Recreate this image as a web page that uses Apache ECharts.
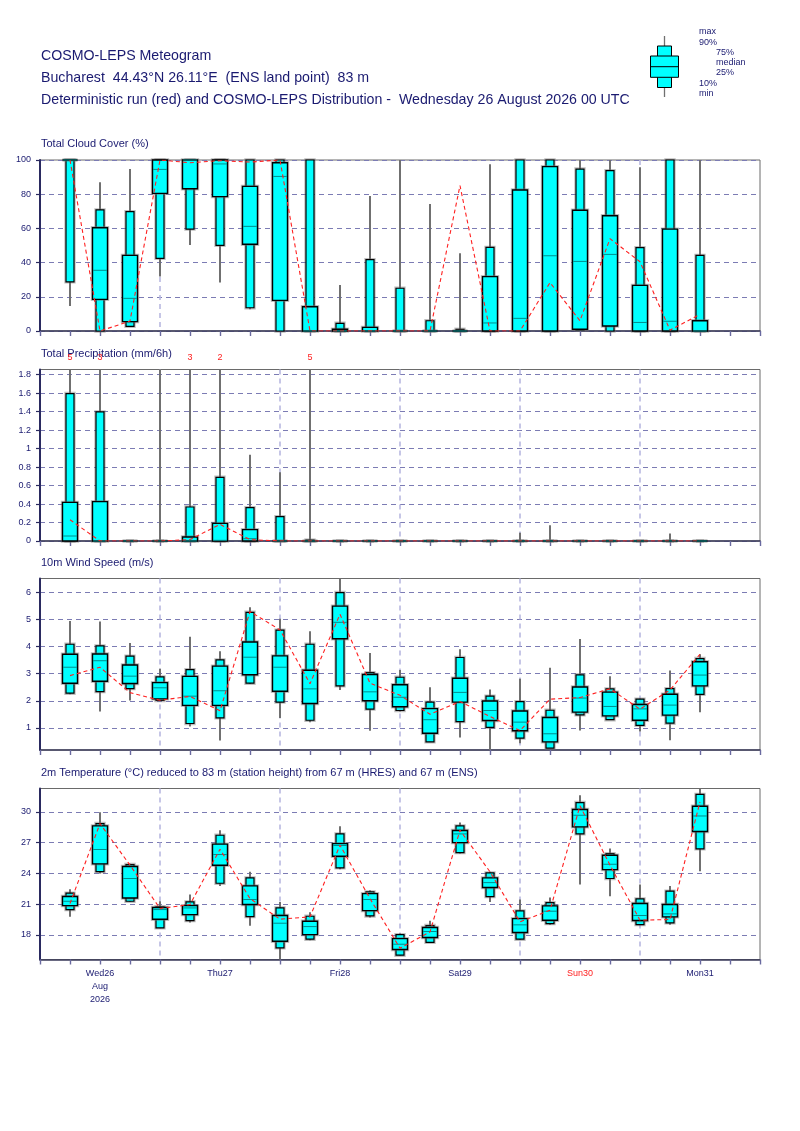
<!DOCTYPE html>
<html><head><meta charset="utf-8">
<script src="https://cdn.jsdelivr.net/npm/echarts@6/dist/echarts.min.js"></script>
<style>html,body{margin:0;padding:0;background:#fff}#c{width:800px;height:1131px}</style>
</head><body><div id="c"></div><script>
// ---- axis categories (hours since Wed 26 Aug 2026 00 UTC)
const hours = ['0','6','12','18','24','30','36','42','48','54','60','66','72','78','84','90','96','102','108','114','120','126','132','138','144'];
const dayLabels = ['','','Wed26\nAug\n2026','','','','Thu27','','','','Fri28','','','','Sat29','','','','Sun30','','','','Mon31','',''];
const dayColors = ['','','#1a1a70','','','','#1a1a70','','','','#1a1a70','','','','#1a1a70','','','','#ff2020','','','','#1a1a70','',''];
// box positions: category indices 1..22 (06 UTC Wed .. 12 UTC Mon)
const steps = [1,2,3,4,5,6,7,8,9,10,11,12,13,14,15,16,17,18,19,20,21,22];

// ---- tick labels
const cloudTicks = [0,20,40,60,80,100];
const precipTicks = [0,0.2,0.4,0.6,0.8,1,1.2,1.4,1.6,1.8];
const windTicks = [1,2,3,4,5,6];
const tempTicks = [18,21,24,27,30];

// ---- data rows: [min, p10, p25, median, p75, p90, max]
const cloudBoxes = [
 [14.6,28.7,100,100,100,100,100],[0,0,18.5,35.5,60.4,70.8,87],[2.7,2.7,5.5,19.1,44.2,69.8,94.7],
 [31.8,42.5,80.5,94.5,100,100,100],[50.3,59.6,83.2,100,100,100,100],[28.3,50.1,78.6,97.7,100,100,100],
 [12.7,13.6,50.7,61.2,84.6,100,100],[0,0,17.9,90.4,98.4,100,100],[0,0,0,0,14.2,100,100],
 [0,0,0,0,1,4.5,26.9],[0,0,0,0,2.1,41.7,79],[0,0,0,0,0,25,100],[0,0,0,0,0,6,74.3],
 [0,0,0,0,0,1,45.4],[0,0,0,4.7,31.8,48.9,97.5],[0,0,0,7.4,82.5,100,100],[0,0,0,44,96.1,100,100],
 [0,0.5,1,40.7,70.6,94.7,100],[0,0,2.9,44.8,67.4,93.8,100],[0,0,0,5,26.7,48.7,95.7],
 [0,0,0,5.7,59.6,100,100],[0,0,0,0,6,44.2,100]
];
const cloudDet = [100,0,5.8,100,98.4,99.6,98.8,100,0,0,0,0,0,85,0,0,28.3,6,54,40.5,0.5,9.7];

const precipBoxes = [
 [0,0,0,0.054,0.418,1.595,5],[0,0,0,0,0.426,1.396,3],[0,0,0,0,0,0,0],[0,0,0,0,0,0,1.9],
 [0,0,0,0,0.043,0.368,3],[0,0,0,0.007,0.191,0.689,2],[0,0,0,0.025,0.123,0.361,0.934],
 [0,0,0,0,0,0.263,0.743],[0,0,0,0,0,0.01,5],[0,0,0,0,0,0,0],[0,0,0,0,0,0,0],[0,0,0,0,0,0,0],
 [0,0,0,0,0,0,0],[0,0,0,0,0,0,0],[0,0,0,0,0,0,0],[0,0,0,0,0,0,0.09],[0,0,0,0,0,0,0.17],
 [0,0,0,0,0,0,0],[0,0,0,0,0,0,0],[0,0,0,0,0,0,0],[0,0,0,0,0,0,0.08],[0,0,0,0,0,0,0]
];
const precipDet = [0.23,0,0,0,0.015,0.18,0.015,0,0,0,0,0,0,0,0,0,0,0,0,0,0,0];

const windBoxes = [
 [2.24,2.28,2.65,3.24,3.72,4.09,4.95],[1.6,2.34,2.72,3.48,3.73,4.03,4.93],[2.01,2.45,2.64,2.91,3.32,3.65,4.14],
 [2.0,2.01,2.07,2.48,2.67,2.88,3.18],[1.05,1.16,1.83,2.17,2.9,3.15,4.37],[0.53,1.37,1.83,2.37,3.28,3.51,3.83],
 [2.62,2.65,2.96,3.61,4.17,5.27,5.46],[1.36,1.95,2.35,3.24,3.66,4.61,5.03],[1.21,1.28,1.9,2.44,3.13,4.09,4.57],
 [2.4,2.55,4.29,4.9,5.5,6.0,6.6],[0.89,1.69,2.0,2.33,2.97,3.04,3.77],[1.6,1.64,1.78,2.13,2.59,2.87,3.14],
 [0.48,0.48,0.8,1.3,1.71,1.95,2.5],[0.64,1.23,1.95,2.31,2.83,3.6,3.9],[0.1,1.02,1.27,1.64,1.99,2.17,2.42],
 [0.43,0.62,0.89,1.21,1.62,1.97,2.81],[0.25,0.25,0.48,0.78,1.38,1.65,3.22],[0.9,1.48,1.58,2.1,2.51,2.96,4.28],
 [1.3,1.3,1.44,1.79,2.32,2.44,2.91],[0.86,1.09,1.28,1.7,1.86,2.06,2.07],[0.54,1.17,1.47,1.84,2.24,2.45,3.12],
 [1.58,2.24,2.55,2.95,3.44,3.56,3.72]
];
const windDet = [2.93,3.24,2.3,2.02,2.16,1.63,5.3,4.62,2.63,5.2,2.65,2.2,1.5,1.97,1.42,0.9,2.06,2.12,2.44,1.69,2.4,3.72];

const tempBoxes = [
 [19.76,20.47,20.86,21.28,21.74,22.07,22.46],[23.98,24.18,24.93,26.33,28.63,28.86,29.97],
 [21.2,21.28,21.6,23.5,24.67,24.86,24.93],[18.68,18.68,19.53,20.47,20.67,20.73,21.28],
 [19.2,19.4,19.98,20.63,20.86,21.22,21.93],[22.78,23.04,24.8,25.84,26.85,27.72,28.21],
 [18.88,19.79,20.96,21.45,22.78,23.56,24.15],[15.4,16.73,17.38,19.14,19.89,20.63,21.22],
 [17.48,17.58,18.03,18.81,19.33,19.82,20.2],[24.4,24.54,25.67,26.72,26.9,27.85,28.6],
 [19.7,19.85,20.37,21.45,22.03,22.2,22.36],[16.0,16.02,16.57,17.09,17.64,18.03,18.13],
 [17.28,17.28,17.74,18.33,18.72,18.91,19.37],[25.93,26.03,27.0,27.85,28.18,28.63,28.96],
 [21.22,21.74,22.62,23.1,23.56,24.05,24.15],[17.5,17.58,18.23,18.98,19.59,20.34,21.45],
 [19.0,19.1,19.43,20.31,20.83,21.15,21.64],[22.91,27.85,28.54,29.67,30.23,30.91,31.63],
 [21.77,23.5,24.37,24.89,25.77,25.93,26.42],[19.0,19.0,19.4,19.89,21.06,21.51,22.91],
 [19.0,19.17,19.76,20.05,20.96,22.26,22.78],[24.21,26.39,28.08,29.6,30.55,31.7,32.4]
];
const tempDet = [21.06,28.86,24.8,20.57,20.96,26.36,21.54,19.53,19.76,26.75,21.54,16.7,18.29,28.21,24.15,19.27,20.41,30.59,24.8,19.43,19.5,30.98];

// ---- styling constants
const NAVY = '#1a1a70';
const FONT = 'Liberation Sans';
const panels = [
  {top:160, height:171, min:0, max:100, ticks:cloudTicks, boxes:cloudBoxes, det:cloudDet},
  {top:369.5, height:171.5, min:0, max:1.855, ticks:precipTicks, boxes:precipBoxes, det:precipDet},
  {top:578.5, height:171.5, min:0.18, max:6.52, ticks:windTicks, boxes:windBoxes, det:windDet},
  {top:788.5, height:171, min:15.6, max:32.28, ticks:tempTicks, boxes:tempBoxes, det:tempDet}
];

function boxRender(params, api) {
  const cs = params.coordSys;
  const xi = api.value(0);
  const vals = [1,2,3,4,5,6,7].map(k => api.value(k));
  const cx = api.coord([xi, vals[3]])[0];
  const y = vals.map(v => {
    const py = api.coord([xi, v])[1];
    return Math.max(cs.y, Math.min(cs.y + cs.height, py));
  });
  const nw = 4, ww = 7.5;
  const halo = 'rgba(110,110,110,0.45)';
  return {type:'group', children:[
    {type:'line', shape:{x1:cx,y1:y[0],x2:cx,y2:y[6]}, style:{stroke:'#707070', lineWidth:2}},
    {type:'rect', shape:{x:cx-nw,y:y[5],width:2*nw,height:y[1]-y[5]}, style:{fill:'none',stroke:halo,lineWidth:3.4}},
    {type:'rect', shape:{x:cx-nw,y:y[5],width:2*nw,height:y[1]-y[5]}, style:{fill:'#00ffff',stroke:'#000',lineWidth:1.2}},
    {type:'rect', shape:{x:cx-ww,y:y[4],width:2*ww,height:y[2]-y[4]}, style:{fill:'none',stroke:halo,lineWidth:3.4}},
    {type:'rect', shape:{x:cx-ww,y:y[4],width:2*ww,height:y[2]-y[4]}, style:{fill:'#00ffff',stroke:'#000',lineWidth:1.4}},
    {type:'line', shape:{x1:cx-ww+0.6,y1:y[3],x2:cx+ww-0.6,y2:y[3]}, style:{stroke:'#008c8c',lineWidth:1}}
  ]};
}

const grid = [], xAxis = [], yAxis = [], series = [];
panels.forEach((p, g) => {
  grid.push({left:40, width:720, top:p.top, height:p.height, show:true, borderColor:'#6a6a6a', borderWidth:1});
  xAxis.push({
    type:'category', gridIndex:g, data:hours, boundaryGap:false,
    axisLine:{show:true, onZero:false, lineStyle:{color:'#3a3a5a', width:1.6}},
    axisTick:{show:true, interval:0, length:5, lineStyle:{color:'#6a6aa0', width:1.4}},
    axisLabel:{show:g===3, interval:0, margin:8, fontSize:9, lineHeight:13, fontFamily:FONT,
      formatter:(v,i)=>dayLabels[i], color:(v,i)=>dayColors[i]||NAVY},
    splitLine:{show:true, interval:(i)=> i%4===0 && i>0 && i<24,
      lineStyle:{color:'#b8b8e0', type:[5,4], width:1.6}}
  });
  yAxis.push({
    type:'value', gridIndex:g, min:p.min, max:p.max,
    axisLine:{show:true, lineStyle:{color:'#2a2a60', width:2}},
    axisTick:{show:true, length:4, customValues:p.ticks, lineStyle:{color:'#2a2a60', width:1.2}},
    axisLabel:{customValues:p.ticks, fontSize:9, color:NAVY, margin:9, fontFamily:FONT},
    splitLine:{show:true, lineStyle:{color:'#7c7cb4', type:[5,4], width:1.1}}
  });
  series.push({
    type:'custom', xAxisIndex:g, yAxisIndex:g, renderItem:boxRender, z:3,
    encode:{x:0, y:[1,2,3,4,5,6,7]},
    data: p.boxes.map((b,i)=>[steps[i]].concat(b))
  });
  series.push({
    type:'line', xAxisIndex:g, yAxisIndex:g, z:5, symbol:'none', silent:true,
    lineStyle:{color:'#ff2020', width:1.1, type:[4,3]},
    data: p.det.map((d,i)=>[steps[i], d])
  });
});
// off-scale precipitation maxima labels
series.push({
  type:'custom', xAxisIndex:1, yAxisIndex:1, z:6,
  renderItem:(params, api)=>{
    const cs = params.coordSys;
    const pt = api.coord([api.value(0), 0]);
    return {type:'text', x:pt[0], y:cs.y-12, style:{text:String(Math.round(api.value(1))), fill:'#ff2020',
      font:'9px '+FONT, textAlign:'center', textVerticalAlign:'middle'}};
  },
  data: precipBoxes.map((b,i)=>[steps[i], b[6]]).filter(d=>d[1] > 1.95)
});

const txt = (x,y,t,size,extra) => Object.assign({type:'text', x, y, style:{text:t, fill:NAVY, font:size+'px '+FONT, textVerticalAlign:'middle'}}, extra||{});
const graphic = [
  txt(41,56,'COSMO-LEPS Meteogram',14.2),
  txt(41,78,'Bucharest  44.43°N 26.11°E  (ENS land point)  83 m',14.2),
  txt(41,100.5,'Deterministic run (red) and COSMO-LEPS Distribution -  Wednesday 26 August 2026 00 UTC',14.2),
  txt(41,144,'Total Cloud Cover (%)',11),
  txt(41,353.5,'Total Precipitation (mm/6h)',11),
  txt(41,563,'10m Wind Speed (m/s)',11),
  txt(41,773,'2m Temperature (°C) reduced to 83 m (station height) from 67 m (HRES) and 67 m (ENS)',11),
  // legend glyph
  {type:'line', shape:{x1:664.5,y1:36,x2:664.5,y2:97}, style:{stroke:'#707070',lineWidth:1.3}},
  {type:'rect', shape:{x:657.5,y:46,width:14,height:41.5}, style:{fill:'#00ffff',stroke:'#000',lineWidth:1}},
  {type:'rect', shape:{x:650.5,y:56,width:28,height:21.3}, style:{fill:'#00ffff',stroke:'#000',lineWidth:1}},
  {type:'line', shape:{x1:650.5,y1:66.7,x2:678.5,y2:66.7}, style:{stroke:'#000',lineWidth:1}},
  txt(699,32,'max',9), txt(699,42.5,'90%',9), txt(716,52.5,'75%',9), txt(716,62.5,'median',9),
  txt(716,73,'25%',9), txt(699,83.5,'10%',9), txt(699,93.5,'min',9)
];

const chart = echarts.init(document.getElementById('c'), null, {renderer:'canvas'});
chart.setOption({animation:false, backgroundColor:'#fff', grid, xAxis, yAxis, series, graphic});
</script></body></html>
